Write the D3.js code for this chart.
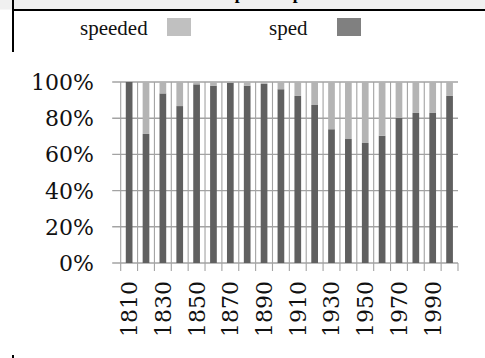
<!DOCTYPE html>
<html>
<head>
<meta charset="utf-8">
<script src="https://cdn.jsdelivr.net/npm/d3@7"></script>
<style>
  html, body { margin: 0; padding: 0; background: #fff; }
  svg { display: block; }
</style>
</head>
<body>
<svg id="chart" width="485" height="358"></svg>
<script>
// Share of "sped" vs "speeded" per decade (percent of all uses)
const decades = [1810, 1820, 1830, 1840, 1850, 1860, 1870, 1880, 1890, 1900,
                 1910, 1920, 1930, 1940, 1950, 1960, 1970, 1980, 1990, 2000];
const spedPct =     [100, 71.3, 93.7, 86.7, 98.7, 98, 99.6, 98, 99, 96,
                     92.3, 87.3, 73.9, 68.5, 66.3, 70.3, 80.1, 82.9, 82.9, 92.3];
const speededPct =  [0, 28.7, 6.3, 13.3, 1.3, 2, 0.4, 2, 1, 4,
                     7.7, 12.7, 26.1, 31.5, 33.7, 29.7, 19.9, 17.1, 17.1, 7.7];
const seriesNames = ["sped", "speeded"];
const legendNames = ["speeded", "sped"];
const yTicks = [0, 0.2, 0.4, 0.6, 0.8, 1.0];
const xTickLabels = [1810, 1830, 1850, 1870, 1890, 1910, 1930, 1950, 1970, 1990];
const titleText = "sped vs speeded";

const svg = d3.select("#chart");
const W = 485, H = 358;

// Table-like frame around the chart
svg.append("rect").attr("x", 0).attr("y", 0).attr("width", W).attr("height", 9.5)
  .attr("fill", "#f0f0f0");
svg.append("clipPath").attr("id", "titleClip")
  .append("rect").attr("x", 0).attr("y", 0).attr("width", W).attr("height", 9.5);
svg.append("text")
  .attr("clip-path", "url(#titleClip)")
  .attr("x", 228).attr("y", -1.2)
  .attr("font-family", "Liberation Serif").attr("font-size", 17.4)
  .attr("font-weight", "bold")
  .attr("fill", "#000")
  .text(titleText);
svg.append("line").attr("x1", 12).attr("x2", W).attr("y1", 10).attr("y2", 10)
  .attr("stroke", "#000").attr("stroke-width", 2);
svg.append("line").attr("x1", 13).attr("x2", 13).attr("y1", 0).attr("y2", 52)
  .attr("stroke", "#000").attr("stroke-width", 2);
svg.append("line").attr("x1", 13).attr("x2", 13).attr("y1", 355).attr("y2", 358)
  .attr("stroke", "#000").attr("stroke-width", 2);

// Legend
const legendColors = { speeded: "#c0c0c0", sped: "#808080" };
const legendPos = { speeded: { tx: 80, sx: 167 }, sped: { tx: 269, sx: 337 } };
legendNames.forEach(name => {
  svg.append("text")
    .attr("x", legendPos[name].tx).attr("y", 35)
    .attr("font-family", "Liberation Serif").attr("font-size", 21)
    .attr("fill", "#111")
    .text(name);
  svg.append("rect")
    .attr("x", legendPos[name].sx).attr("y", 18)
    .attr("width", 24).attr("height", 18)
    .attr("fill", legendColors[name]);
});

// Plot area
const plot = { left: 120.7, right: 458, top: 82, bottom: 263 };
const x = d3.scaleBand().domain(decades).range([plot.left, plot.right]).paddingInner(0).paddingOuter(0);
const y = d3.scaleLinear().domain([0, 1]).range([plot.bottom, plot.top]);

const rows = decades.map((d, i) => ({ decade: d, sped: spedPct[i], speeded: speededPct[i] }));
const stacked = d3.stack().keys(seriesNames).offset(d3.stackOffsetExpand)(rows);

const gridColor = "#a3a3a3";
const g = svg.append("g");

// Horizontal gridlines (extend left as tick marks)
g.selectAll("line.hgrid").data(yTicks).join("line")
  .attr("class", "hgrid")
  .attr("x1", plot.left - 8.5).attr("x2", plot.right)
  .attr("y1", d => y(d)).attr("y2", d => y(d))
  .attr("stroke", gridColor).attr("stroke-width", 1.4);

// Vertical gridlines at category boundaries, with ticks below the axis
const boundaries = decades.map(d => x(d));
g.selectAll("line.vgrid").data(boundaries).join("line")
  .attr("class", "vgrid")
  .attr("x1", d => d).attr("x2", d => d)
  .attr("y1", plot.top).attr("y2", plot.bottom + 8)
  .attr("stroke", gridColor).attr("stroke-width", 1.1);
g.append("line")
  .attr("x1", plot.right).attr("x2", plot.right)
  .attr("y1", plot.bottom).attr("y2", plot.bottom + 8)
  .attr("stroke", gridColor).attr("stroke-width", 1.1);

// Bars
const barColors = { sped: "#606060", speeded: "#b4b4b4" };
const barW = 6.7;
stacked.forEach(layer => {
  g.selectAll(null).data(layer).join("rect")
    .attr("x", d => x(d.data.decade) + x.bandwidth() / 2 - barW / 2)
    .attr("width", barW)
    .attr("y", d => y(d[1]))
    .attr("height", d => y(d[0]) - y(d[1]))
    .attr("fill", barColors[layer.key]);
});

// Y axis labels
const fmt = d3.format(".0%");
svg.selectAll("text.ylab").data(yTicks).join("text")
  .attr("class", "ylab")
  .attr("x", 94).attr("y", d => y(d))
  .attr("dy", "0.36em")
  .attr("text-anchor", "end")
  .attr("font-family", "DejaVu Serif").attr("font-size", 22)
  .attr("fill", "#111")
  .text(d => fmt(d));

// X axis labels (every other decade), rotated
svg.selectAll("text.xlab").data(xTickLabels).join("text")
  .attr("class", "xlab")
  .attr("transform", d => `translate(${x(d) + x.bandwidth() / 2},281) rotate(-90)`)
  .attr("dy", "0.36em")
  .attr("text-anchor", "end")
  .attr("font-family", "DejaVu Serif").attr("font-size", 22)
  .attr("fill", "#111")
  .text(d => d);
</script>
</body>
</html>
